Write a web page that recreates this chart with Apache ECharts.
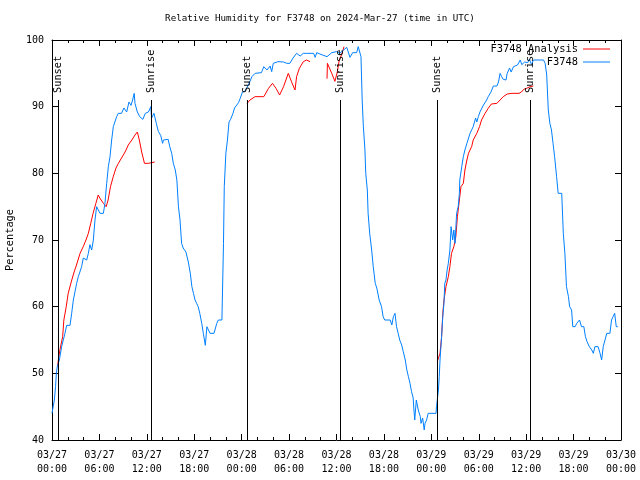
<!DOCTYPE html>
<html>
<head>
<meta charset="utf-8">
<script src="https://cdn.jsdelivr.net/npm/echarts@6/dist/echarts.min.js"></script>
<style>html,body{margin:0;padding:0;background:#fff}#c{width:640px;height:480px}</style>
</head>
<body>
<div id="c"></div>
<script>
// hours since 2024-03-27 00:00 UTC
const obsHours = [0.0,0.15,0.3,0.45,0.55,0.67,0.93,1.22,1.43,1.64,1.86,2.28,2.49,2.7,3.12,3.33,3.75,3.96,4.39,4.6,4.8,5.02,5.23,5.44,5.65,5.86,6.07,6.5,6.7,6.92,7.13,7.34,7.55,7.76,8.18,8.39,8.8,9.1,9.45,9.74,10.0,10.2,10.4,10.5,10.8,11.1,11.5,11.8,12.2,12.5,12.6,12.9,13.2,13.45,13.75,14.0,14.1,14.3,14.7,14.9,15.15,15.35,15.6,15.8,16.0,16.2,16.4,16.6,16.95,17.25,17.5,17.7,17.9,18.1,18.3,18.5,18.7,18.95,19.15,19.4,19.6,19.8,20.0,20.5,20.85,21.05,21.5,21.7,21.8,22.0,22.2,22.4,22.6,22.9,23.1,23.3,23.6,23.8,24.1,24.4,24.85,25.3,25.7,26.5,26.8,27.2,27.6,27.8,28.0,28.6,28.85,29.3,29.7,30.1,30.5,30.95,31.4,31.8,32.2,33.1,33.3,33.5,33.9,34.8,35.4,36.0,36.4,36.9,37.3,37.7,38.05,38.55,38.75,39.1,39.25,39.4,39.6,39.7,39.9,40.0,40.2,40.45,40.65,40.9,41.1,41.4,41.7,41.9,42.1,42.8,43.0,43.2,43.4,43.6,43.8,44.0,44.25,44.45,44.7,44.9,45.1,45.3,45.5,45.7,45.8,45.9,46.1,46.35,46.6,46.7,46.9,47.1,47.2,47.4,47.6,48.6,48.65,48.9,49.0,49.1,49.3,49.45,49.6,49.7,49.85,50.0,50.15,50.35,50.5,50.7,50.85,51.0,51.2,51.4,51.55,51.6,51.85,52.05,52.25,52.5,52.9,53.3,53.6,53.75,53.95,54.15,54.6,55.0,55.2,55.55,55.85,56.3,56.5,56.7,56.9,57.1,57.45,57.6,57.9,58.1,58.4,58.9,59.25,59.45,59.8,60.2,60.4,60.7,60.9,61.1,62.2,62.4,62.6,62.8,63.0,63.2,63.4,63.6,63.85,64.05,64.5,64.7,64.9,65.1,65.35,65.5,65.75,65.9,66.2,66.4,66.75,67.0,67.3,67.5,67.7,68.0,68.3,68.5,68.7,69.1,69.35,69.55,69.75,70.2,70.6,70.8,71.0,71.2,71.4,71.6];
const obsRH = [44,45,46,48,50,51,52,54,55,56,57.2,57.2,59,61,63.5,64.5,66,67.3,67,68,69.3,68.5,70,73,75,75.2,74,74,75.5,78.5,81,82.5,85,87,88.5,89,89,89.8,89.2,90.7,90.2,91,92,90.5,89.2,88.5,88.1,89,89.2,90,88.3,89,87.5,86.3,85.7,84.5,85,85.1,85.1,84,83,81.5,80.5,79,75,73,69.5,68.8,68.2,66.7,65,63,62,61,60.5,60,59,57.5,56,54.2,57,56.5,56,56,57.5,58,58,69.5,78,83,85,87.7,88.1,89,89.8,90.1,90.6,91.2,92.2,92.3,93.25,94.5,95,95.1,96,95.5,96.1,95.25,96.5,96.75,97,96.7,96.5,96.5,97.3,98,97.6,98,98,98,97.4,98.1,97.9,97.5,98.1,98.25,98,98.5,98.9,97.4,98.1,98.1,99,97.5,91,87,83.5,80,77.5,74,71,68.5,66,63.5,62.8,61,60,58.5,58,58,57.25,58.5,59,57,56,55,54.25,53.25,52,50.5,49.5,48.5,47.25,46.3,44.5,43,46,44.5,43.5,42.5,43.3,41.5,42.5,43,44,44,45,47.5,49.5,52,55.5,58.5,60.5,63.5,64,65.5,66.5,68.5,72,70,71.5,69.5,74,75,77,79,81,82.5,83.5,84.5,86,87,88.3,87.7,88.5,89.2,90.25,91,91.5,92.2,93.1,93.1,93.7,95,94.5,94.1,94,95,95.8,95.2,96,96.25,97,96.3,96.7,96.6,97.1,96.3,97,97,97,96.5,94.75,89.5,87.5,86.5,84.5,82.5,79.5,77,77,71,68,63,61.5,60,59.5,57,57,57.5,58,57,57,55.5,54.75,54,53.5,53,54,54,53,52,54,56,56,58,58.5,59,57,57];

const anaHours = [0.7,0.8,1.0,1.35,1.5,1.8,2.05,2.5,2.8,3.1,3.55,3.95,4.3,4.6,4.9,5.2,5.55,5.85,6.05,6.5,6.85,7.1,7.4,7.75,8.1,8.4,8.8,9.25,9.65,10.1,10.5,10.8,11.05,11.35,11.7,12.2,12.4,13.0,13.5,24.7,25.05,25.7,26.8,27.4,27.9,28.35,28.8,29.3,29.9,30.3,30.75,30.95,31.3,31.8,32.2,32.65,33.5,34.8,34.85,35.4,35.8,36.1,36.35,36.65,36.95,40.0,48.75,49.0,49.1,49.3,49.45,49.6,49.85,50.15,50.35,50.55,50.85,51.1,51.3,51.55,51.75,52.05,52.25,52.5,52.7,53.1,53.3,53.75,54.1,54.35,54.8,55.2,55.6,56.3,56.7,57.1,57.6,58.2,59.1,59.4,59.7,60.05,60.5,60.9];
const anaRH = [51,52,53.5,55.5,58,60,62,64,65.2,66.25,68,69,70,71,72.5,74,75.5,76.75,76.3,75.5,75,76,78,79.5,80.8,81.5,82.3,83.2,84.25,85,85.75,86.2,85,83.2,81.5,81.5,81.6,81.7,null,90.5,91,91.5,91.5,92.75,93.5,92.75,91.75,93,95,93.75,92.5,94.5,95.75,96.75,97,96.75,null,94.2,96.5,95,93.8,95.2,97,97.8,99,null,51.75,51.75,53,55.5,59,61,63,64.5,66,68,69,70.5,73.5,76,78,78.5,80.5,82,83,84,85,86,87,88,89,89.75,90.4,90.5,91,91.5,91.9,92,92,92.2,92.6,92.75,93,93.1];

const sunHours = [0.8, 12.53, 24.7, 36.5, 48.75, 60.5];
const sunLabels = ['Sunset','Sunrise','Sunset','Sunrise','Sunset','Sunrise'];
const sunLineTop = 91;

const xTickLabels = ['03/27\n00:00','03/27\n06:00','03/27\n12:00','03/27\n18:00','03/28\n00:00','03/28\n06:00','03/28\n12:00','03/28\n18:00','03/29\n00:00','03/29\n06:00','03/29\n12:00','03/29\n18:00','03/30\n00:00'];
const yTicks = [40,50,60,70,80,90,100];

const FONT = 'DejaVu Sans Mono';
const chart = echarts.init(document.getElementById('c'), null, {renderer:'canvas'});

const obsData = obsHours.map((h,i)=>[h, obsRH[i]]);
const anaData = anaHours.map((h,i)=>[h, anaRH[i] === null ? '-' : anaRH[i]]);
const sunData = sunHours.map((h,i)=>[h, sunLineTop, sunLabels[i]]);

const xCommon = {type:'value', min:0, max:72, interval:6,
  axisLine:{show:true, onZero:false, lineStyle:{color:'#000', width:1}},
  axisTick:{show:true, inside:true, length:6, lineStyle:{color:'#000'}},
  minorTick:{show:true, splitNumber:3, length:3, lineStyle:{color:'#000'}},
  splitLine:{show:false}};
const yCommon = {type:'value', min:yTicks[0], max:yTicks[yTicks.length-1], interval:10,
  axisLine:{show:true, onZero:false, lineStyle:{color:'#000', width:1}},
  axisTick:{show:true, inside:true, length:6, lineStyle:{color:'#000'}},
  splitLine:{show:false}};

chart.setOption({
  animation:false,
  backgroundColor:'#fff',
  title:{text:'Relative Humidity for F3748 on 2024-Mar-27 (time in UTC)', left:'center', top:14, padding:0,
    textStyle:{fontFamily:FONT, fontSize:9.2, fontWeight:'normal', color:'#000'}},
  grid:{left:52, right:19, top:40, bottom:40, containLabel:false, outerBoundsMode:'none'},
  legend:[
    {data:['F3748 Analysis'], right:30, top:44, padding:0, align:'right', icon:'rect', itemWidth:27, itemHeight:1,
     textStyle:{fontFamily:FONT, fontSize:10.4, color:'#000'}},
    {data:['F3748'], right:30, top:57, padding:0, align:'right', icon:'rect', itemWidth:27, itemHeight:1,
     textStyle:{fontFamily:FONT, fontSize:10.4, color:'#000'}}
  ],
  xAxis:[
    Object.assign({}, xCommon, {position:'bottom',
      axisLabel:{show:true, margin:8, fontFamily:FONT, fontSize:10, color:'#000', lineHeight:14,
        formatter:(v)=>{const i=Math.round(v/6); return xTickLabels[i]||'';}}}),
    Object.assign({}, xCommon, {position:'top', axisLabel:{show:false}})
  ],
  yAxis:[
    Object.assign({}, yCommon, {position:'left', name:'Percentage', nameLocation:'middle', nameGap:37, nameRotate:90,
      nameTextStyle:{fontFamily:FONT, fontSize:10.3, color:'#000'},
      axisLabel:{show:true, margin:8, fontFamily:FONT, fontSize:10, color:'#000'}}),
    Object.assign({}, yCommon, {position:'right', axisLabel:{show:false}})
  ],
  series:[
    {name:'F3748 Analysis', type:'line', data:anaData, showSymbol:false, symbol:'none',
     lineStyle:{color:'#ff0000', width:1}, itemStyle:{color:'#ff0000'}, connectNulls:false, z:3},
    {name:'F3748', type:'line', data:obsData, showSymbol:false, symbol:'none',
     lineStyle:{color:'#0080ff', width:1}, itemStyle:{color:'#0080ff'}, z:4},
    {name:'sun', type:'custom', data:sunData, z:5, silent:true,
     renderItem:(params, api)=>{
       const top = api.coord([api.value(0), api.value(1)]);
       const bot = api.coord([api.value(0), 40]);
       const x = Math.round(top[0]) + 0.5;
       return {type:'group', children:[
         {type:'line', shape:{x1:x, y1:top[1], x2:x, y2:bot[1]}, style:{stroke:'#000', lineWidth:1}},
         {type:'text', x:x, y:top[1]-7, rotation:Math.PI/2,
          style:{text:sunLabels[params.dataIndex], textAlign:'left', textVerticalAlign:'middle',
                 fontFamily:FONT, fontSize:10.3, fill:'#000'}}
       ]};
     }}
  ]
});
</script>
</body>
</html>
